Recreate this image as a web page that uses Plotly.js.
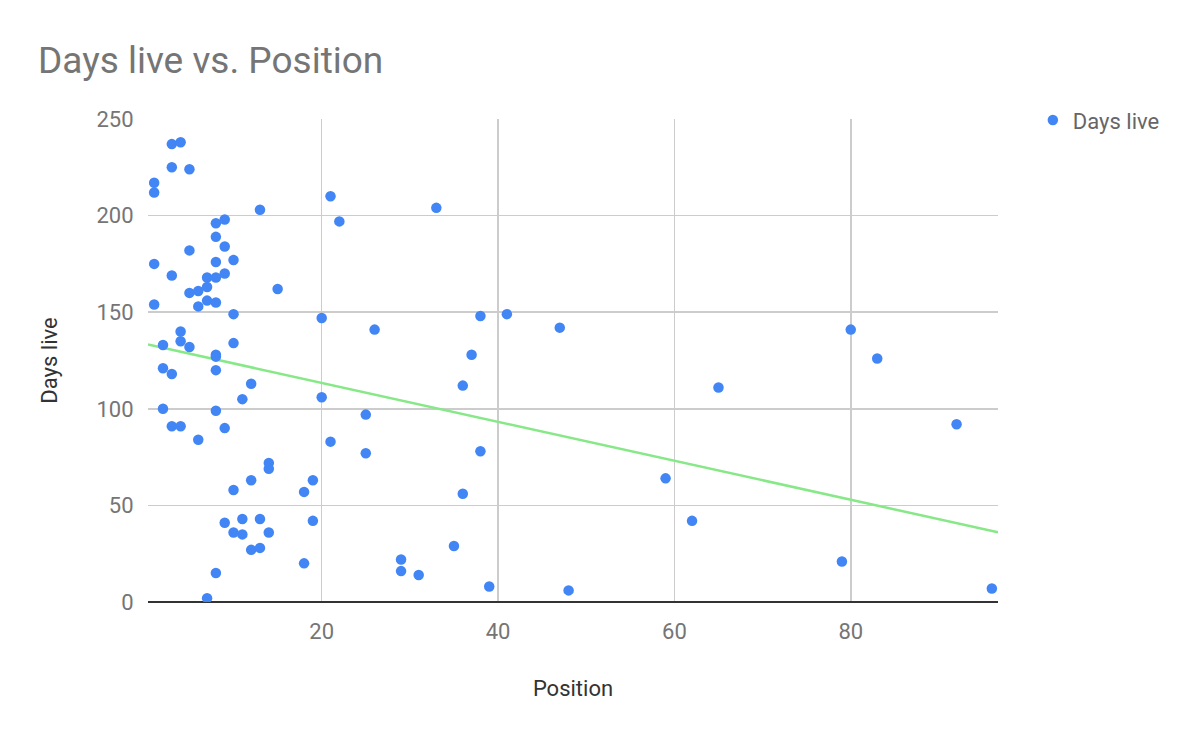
<!DOCTYPE html>
<html>
<head>
<meta charset="utf-8">
<script src="https://cdn.plot.ly/plotly-3.0.1.min.js"></script>
<style>
  html, body { margin: 0; padding: 0; background: #ffffff; }
  #chart { width: 1200px; height: 740px; }
</style>
</head>
<body>
<div id="chart"></div>
<script>
// Position (x) values
var position = [
  1, 1, 1, 1,
  2, 2, 2,
  3, 3, 3, 3, 3,
  4, 4, 4, 4,
  5, 5, 5, 5,
  6, 6, 6,
  7, 7, 7, 7,
  8, 8, 8, 8, 8, 8, 8, 8, 8, 8,
  9, 9, 9, 9, 9,
  10, 10, 10, 10, 10,
  11, 11, 11,
  12, 12, 12,
  13, 13, 13,
  14, 14, 14,
  15,
  18, 18,
  19, 19,
  20, 20,
  21, 21,
  22,
  25, 25,
  26,
  29, 29,
  31,
  33,
  35,
  36, 36,
  37,
  38, 38,
  39,
  41,
  47,
  48,
  59,
  62,
  65,
  79,
  80,
  83,
  92,
  96
];
// Days live (y) values
var daysLive = [
  217, 212, 175, 154,
  133, 121, 100,
  237, 225, 169, 118, 91,
  238, 140, 135, 91,
  224, 182, 160, 132,
  161, 153, 84,
  168, 163, 156, 2,
  196, 189, 176, 168, 155, 128, 127, 120, 99, 15,
  198, 184, 170, 90, 41,
  177, 149, 134, 58, 36,
  105, 43, 35,
  113, 63, 27,
  203, 43, 28,
  72, 69, 36,
  162,
  57, 20,
  63, 42,
  147, 106,
  210, 83,
  197,
  97, 77,
  141,
  22, 16,
  14,
  204,
  29,
  112, 56,
  128,
  148, 78,
  8,
  149,
  142,
  6,
  64,
  42,
  111,
  21,
  141,
  126,
  92,
  7
];
var xRange = [0.3, 96.7];
var yTicks = [0, 50, 100, 150, 200, 250];
var xTicks = [20, 40, 60, 80];

// Linear least-squares trendline computed from the data
function linreg(xs, ys) {
  var n = xs.length, sx = 0, sy = 0, sxx = 0, sxy = 0;
  for (var i = 0; i < n; i++) { sx += xs[i]; sy += ys[i]; sxx += xs[i]*xs[i]; sxy += xs[i]*ys[i]; }
  var m = (n*sxy - sx*sy) / (n*sxx - sx*sx);
  var b = (sy - m*sx) / n;
  return {m: m, b: b};
}
var fit = linreg(position, daysLive);
var trendX = [xRange[0], xRange[1]];
var trendY = trendX.map(function (x) { return fit.m * x + fit.b; });

var font = "Roboto, 'Noto Sans', Arial, sans-serif";

var traces = [
  {
    type: 'scatter', mode: 'lines', name: 'Trendline',
    x: trendX, y: trendY, showlegend: false, hoverinfo: 'skip',
    line: {color: '#86e886', width: 2.5}
  },
  {
    type: 'scatter', mode: 'markers', name: 'Days live',
    x: position, y: daysLive,
    marker: {color: '#4285F4', size: 10.5}
  }
];

var layout = {
  width: 1200, height: 740,
  paper_bgcolor: '#ffffff', plot_bgcolor: '#ffffff',
  margin: {l: 148, r: 202, t: 119, b: 138},
  font: {family: font, size: 22, color: '#757575'},
  title: {
    text: 'Days live vs. Position',
    font: {family: font, size: 37, color: '#757575'},
    xref: 'container', x: 38/1200, xanchor: 'left',
    yref: 'container', y: 1 - 60/740, yanchor: 'middle'
  },
  showlegend: true,
  legend: {
    x: 1.041, xanchor: 'left', y: 1.041, yanchor: 'top',
    font: {family: font, size: 22, color: '#666666'},
    bgcolor: 'rgba(0,0,0,0)'
  },
  xaxis: {
    range: xRange,
    tickvals: xTicks,
    ticktext: xTicks.map(String),
    showgrid: true, gridcolor: '#cccccc', gridwidth: 1.5,
    zeroline: false, showline: false,
    ticks: 'outside', ticklen: 10, tickcolor: 'rgba(0,0,0,0)',
    tickfont: {family: font, size: 22, color: '#757575'},
    title: {text: 'Position', font: {family: font, size: 22, color: '#333333'}, standoff: 37}
  },
  yaxis: {
    range: [0, 250],
    tickvals: yTicks,
    ticktext: yTicks.map(String),
    showgrid: true, gridcolor: '#cccccc', gridwidth: 1.5,
    zeroline: true, zerolinecolor: '#333333', zerolinewidth: 2,
    showline: false,
    ticks: 'outside', ticklen: 9, tickcolor: 'rgba(0,0,0,0)',
    tickfont: {family: font, size: 22, color: '#757575'},
    title: {text: 'Days live', font: {family: font, size: 22, color: '#333333'}, standoff: 32}
  }
};

Plotly.newPlot('chart', traces, layout, {displayModeBar: false, staticPlot: true});
</script>
</body>
</html>
